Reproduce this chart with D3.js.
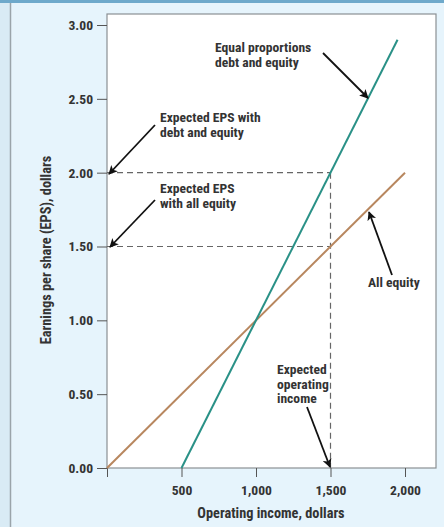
<!DOCTYPE html>
<html><head><meta charset="utf-8">
<script src="https://cdn.jsdelivr.net/npm/d3@7"></script>
<style>
html,body{margin:0;padding:0;background:#e6f4fc;}
svg{display:block;}
text{font-family:"Liberation Sans Narrow","Roboto Condensed","Arial Narrow",sans-serif;fill:#333;}
</style></head><body>
<svg id="c" width="444" height="527"></svg>
<script>
const incomeTicks = [500, 1000, 1500, 2000];
const epsTicks = [0, 0.5, 1.0, 1.5, 2.0, 2.5, 3.0];
const allEquityIncome = [0, 2000];
const allEquityEPS = [0, 2.00];
const debtEquityIncome = [500, 1950];
const debtEquityEPS = [0, 2.90];
const expectedIncome = 1500;
const expectedEPSDebt = 2.00;
const expectedEPSEquity = 1.50;

const svg = d3.select("#c");
// background pieces
svg.append("rect").attr("x",0).attr("y",0).attr("width",10).attr("height",527).attr("fill","#d9ebf5");
svg.append("rect").attr("x",0).attr("y",0).attr("width",444).attr("height",3).attr("fill","#6ea9cb");
svg.append("line").attr("x1",10.5).attr("x2",10.5).attr("y1",3).attr("y2",527).attr("stroke","#9aa4aa").attr("stroke-width",1.5);

const x = d3.scaleLinear().domain([0, 2000]).range([107, 405]);
const y = d3.scaleLinear().domain([0, 3]).range([468, 25]);

// plot box
svg.append("rect").attr("x",107).attr("y",14).attr("width",436-107).attr("height",468-14)
  .attr("fill","#fff").attr("stroke","#8a8f93").attr("stroke-width",1.2);

const FS = 13.6;
// axes
const yAxis = d3.axisLeft(y).tickValues(epsTicks).tickFormat(d3.format(".2f")).tickSize(10).tickPadding(4);
const gy = svg.append("g").attr("transform","translate(107,0)").call(yAxis);
gy.select(".domain").remove();
gy.selectAll("line").attr("stroke","#555");
gy.selectAll("text").attr("font-size",FS).attr("font-weight","bold").style("fill","#333");

const xAxis = d3.axisBottom(x).tickValues([0].concat(incomeTicks)).tickFormat(d => d===0 ? "" : d3.format(",")(d)).tickSize(9).tickPadding(8);
const gx = svg.append("g").attr("transform","translate(0,468)").call(xAxis);
gx.select(".domain").remove();
gx.selectAll("line").attr("stroke","#555");
gx.selectAll("text").attr("font-size",FS).attr("font-weight","bold").style("fill","#333");

// dashed guides
const dash = {stroke:"#666", "stroke-width":1.2, "stroke-dasharray":"6,4"};
function dl(x1,y1,x2,y2){const l=svg.append("line").attr("x1",x1).attr("y1",y1).attr("x2",x2).attr("y2",y2);for(const k in dash)l.attr(k,dash[k]);}
dl(x(0), y(expectedEPSDebt), x(expectedIncome), y(expectedEPSDebt));
dl(x(0), y(expectedEPSEquity), x(expectedIncome), y(expectedEPSEquity));
dl(x(expectedIncome), y(expectedEPSDebt), x(expectedIncome), y(0));

// lines
const line = d3.line().x(d=>x(d[0])).y(d=>y(d[1]));
svg.append("path").datum(d3.zip(allEquityIncome, allEquityEPS)).attr("d",line)
  .attr("fill","none").attr("stroke","#b8875f").attr("stroke-width",2);
svg.append("path").datum(d3.zip(debtEquityIncome, debtEquityEPS)).attr("d",line)
  .attr("fill","none").attr("stroke","#2a9187").attr("stroke-width",2);

// arrows
svg.append("defs").append("marker").attr("id","ah").attr("viewBox","0 0 10 10").attr("refX",9).attr("refY",5)
  .attr("markerWidth",9).attr("markerHeight",9).attr("markerUnits","userSpaceOnUse").attr("orient","auto")
  .append("path").attr("d","M0,0 L10,5 L0,10 L2.5,5 Z").attr("fill","#111");
function arrow(x1,y1,x2,y2){svg.append("line").attr("x1",x1).attr("y1",y1).attr("x2",x2).attr("y2",y2)
  .attr("stroke","#111").attr("stroke-width",1.8).attr("marker-end","url(#ah)");}
arrow(323,53,368,98);
arrow(155,125,109,174);
arrow(155,200,110,247);
arrow(392,275,369,212);
arrow(307,407,330,467);

// annotation text
function txt(xp, yp, lines, anchor){
  const t = svg.append("text").attr("x",xp).attr("y",yp).attr("font-size",FS).attr("font-weight","bold").attr("text-anchor",anchor||"start");
  lines.forEach((s,i)=>t.append("tspan").attr("x",xp).attr("dy", i===0?0:14.5).text(s));
}
txt(215, 52, ["Equal proportions","debt and equity"]);
txt(160, 122, ["Expected EPS with","debt and equity"]);
txt(160, 193, ["Expected EPS","with all equity"]);
txt(368, 287, ["All equity"]);
txt(277, 374, ["Expected","operating","income"]);

// axis titles
svg.append("text").attr("x",271).attr("y",518).attr("text-anchor","middle").attr("font-size",14.3).attr("font-weight","bold").text("Operating income, dollars");
svg.append("text").attr("transform","translate(51,250) rotate(-90)").attr("text-anchor","middle").attr("font-size",14.3).attr("font-weight","bold").text("Earnings per share (EPS), dollars");
</script>
</body></html>
